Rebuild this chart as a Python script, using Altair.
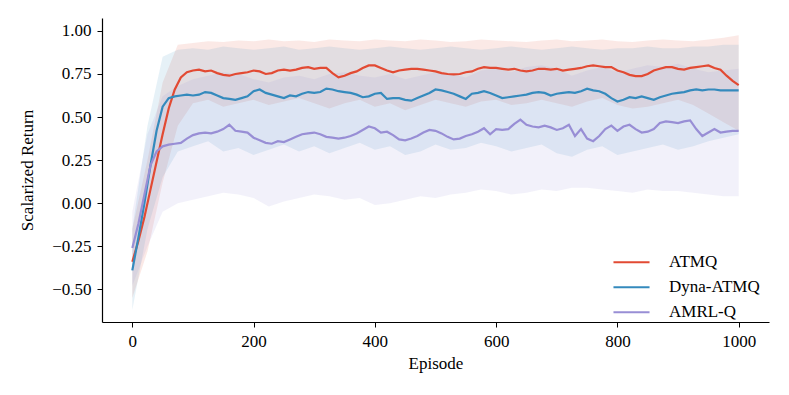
import altair as alt
import pandas as pd

SERIES = ["ATMQ", "Dyna-ATMQ", "AMRL-Q"]
COLORS = ["#E24A33", "#348ABD", "#988ED5"]

# mean lines, every 10 episodes (0..1000)
episodes = list(range(0, 1001, 10))
atmq = [-0.34, -0.22, -0.08, 0.08, 0.24, 0.40, 0.55, 0.66, 0.73, 0.76,
        0.77, 0.775, 0.765, 0.77, 0.755, 0.745, 0.74, 0.75, 0.755, 0.76,
        0.77, 0.765, 0.75, 0.755, 0.77, 0.775, 0.77, 0.775, 0.785, 0.79,
        0.78, 0.785, 0.785, 0.755, 0.73, 0.74, 0.755, 0.765, 0.785, 0.80,
        0.80, 0.785, 0.77, 0.76, 0.77, 0.775, 0.78, 0.78, 0.775, 0.77,
        0.765, 0.755, 0.75, 0.748, 0.75, 0.76, 0.765, 0.78, 0.79, 0.785,
        0.785, 0.78, 0.775, 0.78, 0.77, 0.765, 0.77, 0.78, 0.78, 0.775,
        0.78, 0.77, 0.775, 0.78, 0.785, 0.795, 0.80, 0.795, 0.79, 0.79,
        0.77, 0.76, 0.745, 0.738, 0.738, 0.75, 0.77, 0.78, 0.79, 0.79,
        0.78, 0.775, 0.785, 0.79, 0.795, 0.80, 0.785, 0.775, 0.74, 0.71,
        0.685]
dyna = [-0.39, -0.20, 0.00, 0.22, 0.42, 0.56, 0.61, 0.62, 0.625, 0.63,
        0.625, 0.63, 0.645, 0.64, 0.625, 0.61, 0.605, 0.60, 0.61, 0.62,
        0.65, 0.66, 0.64, 0.63, 0.62, 0.61, 0.625, 0.62, 0.635, 0.645,
        0.64, 0.645, 0.665, 0.66, 0.65, 0.645, 0.64, 0.63, 0.615, 0.62,
        0.635, 0.64, 0.605, 0.61, 0.61, 0.60, 0.595, 0.61, 0.625, 0.64,
        0.66, 0.655, 0.645, 0.635, 0.62, 0.605, 0.635, 0.64, 0.65, 0.64,
        0.625, 0.61, 0.615, 0.62, 0.625, 0.63, 0.64, 0.645, 0.64, 0.625,
        0.635, 0.64, 0.645, 0.64, 0.65, 0.665, 0.655, 0.65, 0.635, 0.61,
        0.59, 0.60, 0.615, 0.61, 0.62, 0.61, 0.60, 0.615, 0.625, 0.635,
        0.64, 0.645, 0.655, 0.66, 0.655, 0.66, 0.66, 0.655, 0.655, 0.655,
        0.655]
amrl = [-0.26, -0.12, 0.05, 0.22, 0.30, 0.33, 0.34, 0.345, 0.35, 0.375,
        0.395, 0.405, 0.41, 0.405, 0.415, 0.43, 0.455, 0.42, 0.415, 0.41,
        0.38, 0.365, 0.35, 0.345, 0.36, 0.355, 0.37, 0.385, 0.40, 0.405,
        0.41, 0.40, 0.385, 0.38, 0.375, 0.38, 0.39, 0.405, 0.425, 0.445,
        0.435, 0.41, 0.415, 0.395, 0.37, 0.365, 0.375, 0.39, 0.41, 0.425,
        0.42, 0.405, 0.385, 0.37, 0.375, 0.39, 0.40, 0.415, 0.435, 0.40,
        0.43, 0.425, 0.43, 0.46, 0.485, 0.455, 0.445, 0.44, 0.45, 0.44,
        0.425, 0.435, 0.455, 0.39, 0.43, 0.375, 0.36, 0.39, 0.43, 0.45,
        0.42, 0.445, 0.455, 0.43, 0.41, 0.415, 0.43, 0.465, 0.475, 0.47,
        0.465, 0.475, 0.48, 0.43, 0.39, 0.41, 0.43, 0.41, 0.415, 0.42,
        0.42]

# shaded bands, every 25 episodes (0..1000)
band_eps = list(range(0, 1001, 25))
atmq_hi = [-0.15, 0.25, 0.70, 0.92, 0.93, 0.94, 0.935, 0.945, 0.94, 0.95,
           0.94, 0.945, 0.935, 0.95, 0.945, 0.94, 0.95, 0.945, 0.94, 0.95,
           0.945, 0.935, 0.94, 0.95, 0.945, 0.94, 0.935, 0.945, 0.95, 0.94,
           0.945, 0.95, 0.94, 0.935, 0.945, 0.95, 0.945, 0.94, 0.95, 0.96,
           0.975]
atmq_lo = [-0.55, -0.28, 0.12, 0.45, 0.58, 0.60, 0.56, 0.58, 0.60, 0.57,
           0.59, 0.61, 0.58, 0.55, 0.58, 0.60, 0.56, 0.58, 0.54, 0.57,
           0.60, 0.58, 0.56, 0.59, 0.60, 0.57, 0.58, 0.60, 0.58, 0.56,
           0.59, 0.61, 0.57, 0.55, 0.56, 0.58, 0.60, 0.57, 0.52, 0.47,
           0.42]
dyna_hi = [-0.15, 0.45, 0.85, 0.89, 0.90, 0.89, 0.91, 0.90, 0.89, 0.90,
           0.91, 0.89, 0.90, 0.91, 0.90, 0.89, 0.90, 0.91, 0.90, 0.89,
           0.90, 0.91, 0.90, 0.89, 0.90, 0.91, 0.90, 0.89, 0.90, 0.91,
           0.90, 0.89, 0.90, 0.90, 0.91, 0.90, 0.90, 0.91, 0.91, 0.92,
           0.92]
dyna_lo = [-0.62, -0.15, 0.15, 0.30, 0.33, 0.36, 0.30, 0.32, 0.28, 0.31,
           0.34, 0.30, 0.33, 0.29, 0.32, 0.35, 0.31, 0.33, 0.28, 0.30,
           0.34, 0.31, 0.32, 0.35, 0.33, 0.30, 0.32, 0.34, 0.29, 0.27,
           0.31, 0.33, 0.28, 0.30, 0.32, 0.34, 0.31, 0.33, 0.36, 0.38,
           0.40]
amrl_hi = [-0.05, 0.40, 0.62, 0.68, 0.72, 0.74, 0.76, 0.75, 0.72, 0.70,
           0.73, 0.74, 0.72, 0.75, 0.76, 0.74, 0.73, 0.75, 0.72, 0.74,
           0.76, 0.75, 0.73, 0.77, 0.78, 0.76, 0.79, 0.80, 0.78, 0.74,
           0.77, 0.79, 0.76, 0.78, 0.80, 0.79, 0.81, 0.78, 0.76, 0.77,
           0.78]
amrl_lo = [-0.48, -0.25, -0.05, 0.00, 0.02, 0.04, 0.06, 0.05, 0.03, -0.02,
           0.01, 0.03, 0.05, 0.04, 0.02, 0.03, -0.01, 0.00, 0.02, 0.04,
           0.03, 0.05, 0.06, 0.08, 0.07, 0.05, 0.06, 0.08, 0.07, 0.09,
           0.09, 0.08, 0.07, 0.06, 0.08, 0.07, 0.07, 0.06, 0.05, 0.04,
           0.04]

x_ticks = [0, 200, 400, 600, 800, 1000]
y_ticks = [-0.5, -0.25, 0.0, 0.25, 0.5, 0.75, 1.0]

lines = pd.DataFrame({
    "Episode": episodes * 3,
    "value": atmq + dyna + amrl,
    "series": [s for s in SERIES for _ in episodes],
})
bands = pd.DataFrame({
    "Episode": band_eps * 3,
    "lo": atmq_lo + dyna_lo + amrl_lo,
    "hi": atmq_hi + dyna_hi + amrl_hi,
    "series": [s for s in SERIES for _ in band_eps],
})

FONT = "Liberation Serif"

xscale = alt.Scale(domain=[-50, 1050], nice=False, zero=False)
yscale = alt.Scale(domain=[-0.69, 1.075], nice=False, zero=False)
cscale = alt.Scale(domain=SERIES, range=COLORS)

xaxis = alt.Axis(values=x_ticks, format="d", title="Episode", grid=False)
yaxis = alt.Axis(values=y_ticks, format=".2f", title="Scalarized Return", grid=False)

legend = alt.Legend(
    title=None, orient="none", legendX=510, legendY=232,
    symbolType="stroke", symbolSize=1300, symbolStrokeWidth=2,
    symbolOpacity=1, symbolFillColor="transparent",
    labelFont=FONT, labelFontSize=17, labelColor="black",
    labelOffset=18, rowPadding=0, clipHeight=24.5,
)

area = alt.Chart(bands).mark_area(opacity=0.12).encode(
    x=alt.X("Episode:Q", scale=xscale, axis=xaxis),
    y=alt.Y("lo:Q", scale=yscale, axis=yaxis),
    y2="hi:Q",
    color=alt.Color("series:N", scale=cscale, sort=SERIES, legend=legend),
)

line = alt.Chart(lines).mark_line(strokeWidth=2.2).encode(
    x=alt.X("Episode:Q", scale=xscale, axis=xaxis),
    y=alt.Y("value:Q", scale=yscale, axis=yaxis),
    color=alt.Color("series:N", scale=cscale, sort=SERIES, legend=legend),
)

chart = alt.layer(area, line).properties(
    width=667, height=304,
    autosize=alt.AutoSizeParams(type="none"),
    padding={"left": 94, "top": 10, "right": 12, "bottom": 60},
).configure_view(stroke=None).configure_axis(
    labelFont=FONT, titleFont=FONT, labelFontSize=17, titleFontSize=17,
    titleFontWeight="normal", labelColor="black", titleColor="black",
    domainColor="black", domainWidth=1.2, tickColor="black", tickWidth=1,
    tickSize=5, labelPadding=6,
).configure_axisY(titlePadding=15).configure_axisX(titlePadding=6)

chart.save("out.html", embed_options={"renderer": "svg", "actions": False})
